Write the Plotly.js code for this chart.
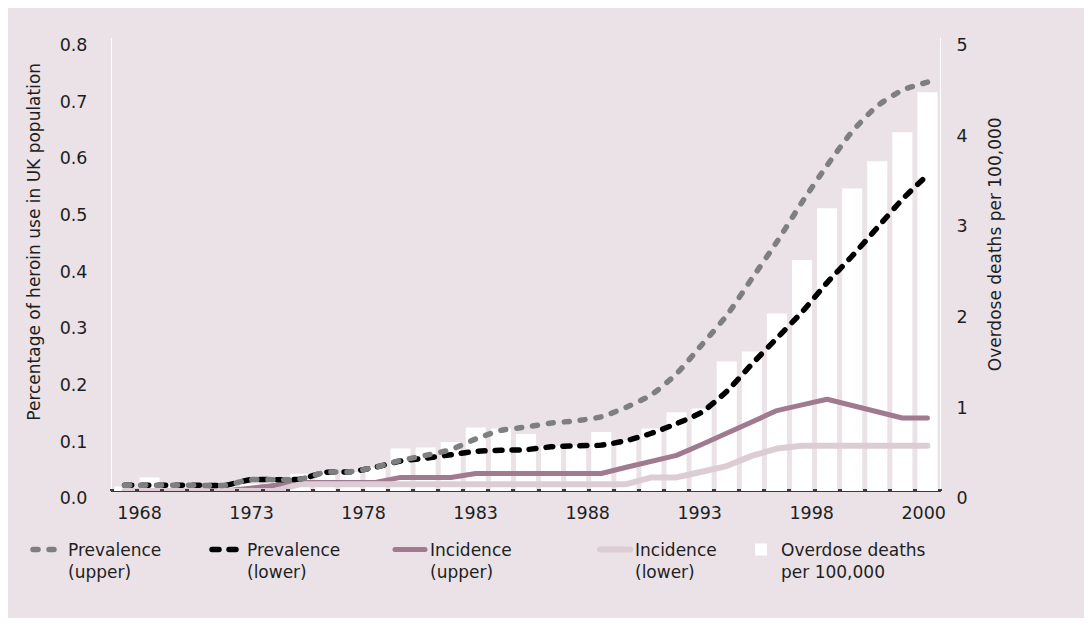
<!DOCTYPE html>
<html>
<head>
<meta charset="utf-8">
<script src="https://cdn.plot.ly/plotly-3.0.1.min.js"></script>
<style>
  html, body { margin: 0; padding: 0; background: #ffffff; }
  #chart { position: absolute; left: 8px; top: 8px; width: 1076px; height: 610px; }
  #chart .js-line { stroke-linecap: round; stroke-linejoin: round; }
</style>
</head>
<body>
<div id="chart"></div>
<script>
// ---- data ----
const years = [1968, 1969, 1970, 1971, 1972, 1973, 1974, 1975, 1976, 1977, 1978,
               1979, 1980, 1981, 1982, 1983, 1984, 1985, 1986, 1987, 1988, 1989,
               1990, 1991, 1992, 1993, 1994, 1995, 1996, 1997, 1998, 1999, 2000];

// % of UK population
const prevalenceUpper = [0.010, 0.010, 0.010, 0.010, 0.010, 0.020, 0.020, 0.021, 0.033, 0.034, 0.042,
                         0.054, 0.063, 0.073, 0.092, 0.107, 0.113, 0.120, 0.124, 0.131, 0.148, 0.170,
                         0.207, 0.258, 0.310, 0.375, 0.440, 0.510, 0.575, 0.635, 0.680, 0.708, 0.722];
const prevalenceLower = [0.010, 0.010, 0.010, 0.010, 0.010, 0.020, 0.020, 0.021, 0.033, 0.034, 0.042,
                         0.053, 0.058, 0.064, 0.070, 0.072, 0.073, 0.078, 0.080, 0.081, 0.089, 0.102,
                         0.119, 0.139, 0.176, 0.224, 0.270, 0.316, 0.368, 0.415, 0.465, 0.515, 0.558];
const incidenceUpper  = [0.000, 0.000, 0.000, 0.000, 0.000, 0.005, 0.010, 0.015, 0.015, 0.015, 0.015,
                         0.024, 0.024, 0.024, 0.031, 0.031, 0.031, 0.031, 0.031, 0.031, 0.042, 0.052,
                         0.063, 0.082, 0.102, 0.122, 0.142, 0.152, 0.162, 0.151, 0.140, 0.129, 0.129];
const incidenceLower  = [0.000, 0.000, 0.000, 0.000, 0.000, 0.000, 0.000, 0.012, 0.012, 0.012, 0.012,
                         0.012, 0.012, 0.012, 0.012, 0.012, 0.012, 0.012, 0.012, 0.012, 0.012, 0.024,
                         0.024, 0.034, 0.044, 0.062, 0.075, 0.080, 0.080, 0.080, 0.080, 0.080, 0.080];
// overdose deaths per 100,000
const overdoseDeaths  = [0.05, 0.15, 0.08, 0.07, 0.07, 0.08, 0.10, 0.19, 0.20, 0.21, 0.26,
                         0.47, 0.48, 0.54, 0.70, 0.69, 0.63, 0.50, 0.50, 0.65, 0.56, 0.69,
                         0.87, 0.91, 1.43, 1.54, 1.96, 2.55, 3.12, 3.34, 3.64, 3.96, 4.40];

// x tick labels as printed under the axis (evenly spread along it)
const xTickLabels = ['1968', '1973', '1978', '1983', '1988', '1993', '1998', '2000'];
const leftTicks  = [0, 0.1, 0.2, 0.3, 0.4, 0.5, 0.6, 0.7, 0.8];
const rightTicks = [0, 1, 2, 3, 4, 5];

const seriesNames = ['Prevalence<br>(upper)', 'Prevalence<br>(lower)', 'Incidence<br>(upper)',
                     'Incidence<br>(lower)', 'Overdose deaths<br>per 100,000'];
const leftTitle  = 'Percentage of heroin use in UK population';
const rightTitle = 'Overdose deaths per 100,000';

// ---- layout helpers ----
const FONT = 'DejaVu Sans, Verdana, sans-serif';
const TXT = '#1e1e1e';
const BG = '#eae2e7';
const firstLabelPos = 1968.6, lastLabelPos = 1999.85;
const xTickVals = xTickLabels.map((_, i) => firstLabelPos + i * (lastLabelPos - firstLabelPos) / (xTickLabels.length - 1));
const boundaries = years.map(y => y - 0.5).concat([years[years.length - 1] + 0.5]);

const traces = [
  { type: 'bar', x: years, y: overdoseDeaths, yaxis: 'y', name: seriesNames[4], legend: 'legend5',
    marker: { color: '#ffffff', line: { width: 0 } } },
  { type: 'scatter', mode: 'lines', x: years, y: incidenceUpper, yaxis: 'y2', name: seriesNames[2], legend: 'legend3',
    line: { color: '#a07a8e', width: 5 } },
  { type: 'scatter', mode: 'lines', x: years, y: incidenceLower, yaxis: 'y2', name: seriesNames[3], legend: 'legend4',
    line: { color: '#dccdd5', width: 6 } },
  { type: 'scatter', mode: 'lines', x: years, y: prevalenceLower, yaxis: 'y2', name: seriesNames[1], legend: 'legend2',
    line: { color: '#000000', width: 5.5, dash: '7px,10px', shape: 'spline', smoothing: 0.6 } },
  { type: 'scatter', mode: 'lines', x: years, y: prevalenceUpper, yaxis: 'y2', name: seriesNames[0], legend: 'legend',
    line: { color: '#7f7f7f', width: 5.5, dash: '5px,11px', shape: 'spline', smoothing: 0.6 } }
];

function legendAt(px, py) {
  return {
    x: (px - 8) / 1076, y: 1 - (py - 8) / 610, xref: 'container', yref: 'container',
    xanchor: 'left', yanchor: 'top', orientation: 'v', valign: 'top',
    bgcolor: 'rgba(0,0,0,0)', borderwidth: 0,
    font: { family: FONT, size: 17, color: TXT }
  };
}

const layout = {
  width: 1076, height: 610,
  paper_bgcolor: BG, plot_bgcolor: BG,
  margin: { l: 104, r: 144, t: 30, b: 127, pad: 0, autoexpand: false },
  font: { family: FONT, size: 17, color: TXT },
  showlegend: true,
  bargap: 0.2,
  hovermode: false,
  xaxis: {
    type: 'linear', range: [1967.5, 2000.5], automargin: false,
    tickmode: 'array', tickvals: xTickVals, ticktext: xTickLabels,
    ticks: '', showgrid: false, zeroline: false,
    showline: true, linecolor: '#3c3c3c', linewidth: 1,
    ticklabelstandoff: 6,
    tickfont: { family: FONT, size: 17.5, color: TXT },
    minor: { tickmode: 'array', tickvals: boundaries, ticks: 'inside', ticklen: 2, tickwidth: 4, tickcolor: '#3c3c3c', showgrid: false }
  },
  yaxis: {
    side: 'right', range: [0, 5], tickmode: 'array', tickvals: rightTicks, automargin: false,
    ticks: '', showgrid: false, zeroline: false,
    showline: true, linecolor: '#ffffff', linewidth: 1,
    ticklabelshift: 7, ticklabelstandoff: 12,
    tickfont: { family: FONT, size: 17.5, color: TXT }
  },
  yaxis2: {
    side: 'left', overlaying: 'y', range: [0, 0.8], tickmode: 'array', tickvals: leftTicks, tickformat: '.1f', automargin: false,
    ticks: '', showgrid: false, zeroline: false,
    showline: true, linecolor: '#ffffff', linewidth: 1,
    ticklabelshift: 7, ticklabelstandoff: 20,
    tickfont: { family: FONT, size: 17.5, color: TXT }
  },
  annotations: [
    { text: leftTitle, textangle: -90, xref: 'paper', yref: 'paper',
      x: (34.5 - 112) / 828, y: (490.5 - 242) / 452.5, xanchor: 'center', yanchor: 'middle',
      showarrow: false, font: { family: FONT, size: 17, color: TXT } },
    { text: rightTitle, textangle: -90, xref: 'paper', yref: 'paper',
      x: (995 - 112) / 828, y: (490.5 - 244) / 452.5, xanchor: 'center', yanchor: 'middle',
      showarrow: false, font: { family: FONT, size: 17, color: TXT } }
  ],
  legend:  legendAt(28, 532),
  legend2: legendAt(207, 532),
  legend3: legendAt(390, 532),
  legend4: legendAt(595, 532),
  legend5: legendAt(741, 532)
};

Plotly.newPlot('chart', traces, layout, { displayModeBar: false, staticPlot: true });
</script>
</body>
</html>
